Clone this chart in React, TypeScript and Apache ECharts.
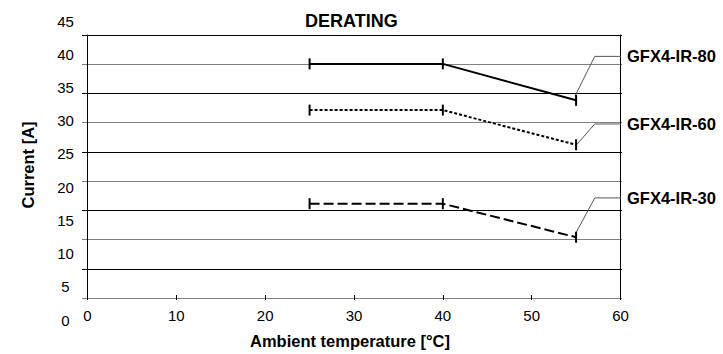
import React, { useEffect, useRef } from "react";
import * as echarts from "echarts";

const xTicks = [0, 10, 20, 30, 40, 50, 60];
const yTicks = [0, 5, 10, 15, 20, 25, 30, 35, 40, 45];

const seriesNames = ["GFX4-IR-80", "GFX4-IR-60", "GFX4-IR-30"];
const temps = [25, 40, 55];
const ir80 = [40, 40, 33.7];
const ir60 = [32, 32, 26];
const ir30 = [15.8, 15.8, 10];

const leader80 = [[54.9, 34.5], [57.1, 41.3], [60.1, 41.3]];
const leader60 = [[55.05, 26], [57.1, 29.6], [60.1, 29.6]];
const leader30 = [[54.9, 10.5], [57.1, 16.8], [60.1, 16.8]];

const FONT = "'Liberation Sans', Arial, Helvetica, sans-serif";

export default function App() {
  const ref = useRef<HTMLDivElement>(null);
  useEffect(() => {
    if (!ref.current) return;
    const chart = echarts.init(ref.current, null, { renderer: "svg" });
    const dataGrid = { left: 87.5, top: 35, width: 533, height: 263 };
    const mk = (vals: number[]) => temps.map((t, i) => [t, vals[i]]);
    const styles = [
      { type: "solid" as any, width: 2 },
      { type: [3, 2] as any, width: 2 },
      { type: [10, 4] as any, width: 2 },
    ];
    const values = [ir80, ir60, ir30];
    const leaders = [leader80, leader60, leader30];
    const mainSeries = values.map((v, i) => ({
      name: seriesNames[i],
      type: "line",
      xAxisIndex: 1,
      yAxisIndex: 1,
      data: mk(v),
      symbol: "rect",
      symbolSize: [2, 11],
      itemStyle: { color: "#000" },
      lineStyle: { color: "#000", width: styles[i].width, type: styles[i].type },
      z: 5,
    }));
    const leaderSeries = leaders.map((d, i) => ({
      name: seriesNames[i] + " label",
      type: "line",
      xAxisIndex: 1,
      yAxisIndex: 1,
      data: d,
      symbol: "none",
      clip: false,
      lineStyle: { color: "#555", width: 1 },
      endLabel: {
        show: true,
        formatter: () => seriesNames[i],
        color: "#000",
        fontFamily: FONT,
        fontWeight: "bold",
        fontSize: 16.5,
        distance: 6,
      },
      z: 4,
    }));
    chart.setOption({
      animation: false,
      backgroundColor: "#fff",
      textStyle: { fontFamily: FONT },
      title: {
        text: "DERATING",
        left: 305,
        top: 12,
        padding: 0,
        textStyle: { fontFamily: FONT, fontWeight: "bold", fontSize: 18, color: "#000" },
      },
      grid: [
        { left: 82, top: 35, width: 540, height: 263 },
        dataGrid,
        { left: 87.5, top: 21, width: 533, height: 299 },
      ],
      xAxis: [
        { gridIndex: 0, type: "value", min: 0, max: 60, show: false },
        {
          gridIndex: 1,
          type: "value",
          min: 0,
          max: 60,
          interval: 10,
          axisLine: { show: false },
          axisTick: { show: true, length: 5, lineStyle: { color: "#000", width: 1 } },
          splitLine: { show: false },
          axisLabel: {
            margin: 13,
            fontSize: 15,
            color: "#000",
            fontFamily: FONT,
            formatter: (v: number) => (xTicks.includes(v) ? String(v) : ""),
          },
          name: "Ambient temperature [°C]",
          nameLocation: "middle",
          nameGap: 37,
          nameTextStyle: { fontFamily: FONT, fontWeight: "bold", fontSize: 16.5, color: "#000", padding: [0, 8, 0, 0] },
        },
        { gridIndex: 2, type: "value", min: 0, max: 60, show: false },
      ],
      yAxis: [
        {
          gridIndex: 0,
          type: "value",
          min: 0,
          max: 45,
          interval: 5,
          axisLine: { show: false },
          axisTick: { show: false },
          axisLabel: { show: false },
          splitLine: { show: true, lineStyle: { color: ["#808080", "#000"], width: 1 } },
        },
        {
          gridIndex: 1,
          type: "value",
          min: 0,
          max: 45,
          interval: 5,
          axisLine: { show: true, lineStyle: { color: "#000", width: 1 } },
          axisTick: { show: false },
          axisLabel: { show: false },
          splitLine: { show: false },
        },
        {
          gridIndex: 1,
          type: "value",
          position: "right",
          min: 0,
          max: 45,
          interval: 5,
          axisLine: { show: true, lineStyle: { color: "#000", width: 1 } },
          axisTick: { show: false },
          axisLabel: { show: false },
          splitLine: { show: false },
        },
        {
          gridIndex: 2,
          type: "value",
          min: 0,
          max: 45,
          interval: 5,
          axisLine: { show: false },
          axisTick: { show: false },
          splitLine: { show: false },
          axisLabel: {
            align: "center",
            margin: 22,
            fontSize: 15,
            color: "#000",
            fontFamily: FONT,
            formatter: (v: number) => (yTicks.includes(v) ? String(v) : ""),
          },
        },
      ],
      graphic: [
        {
          type: "text",
          x: 28,
          y: 165,
          rotation: Math.PI / 2,
          style: {
            text: "Current [A]",
            fontFamily: FONT,
            fontWeight: "bold",
            fontSize: 16.5,
            fill: "#000",
            textAlign: "center",
            textVerticalAlign: "middle",
          },
        },
      ],
      series: [...mainSeries, ...leaderSeries],
    });
    return () => chart.dispose();
  }, []);
  return (
    <div
      ref={ref}
      style={{ position: "fixed", left: 0, top: 0, width: 723, height: 354 }}
    />
  );
}
